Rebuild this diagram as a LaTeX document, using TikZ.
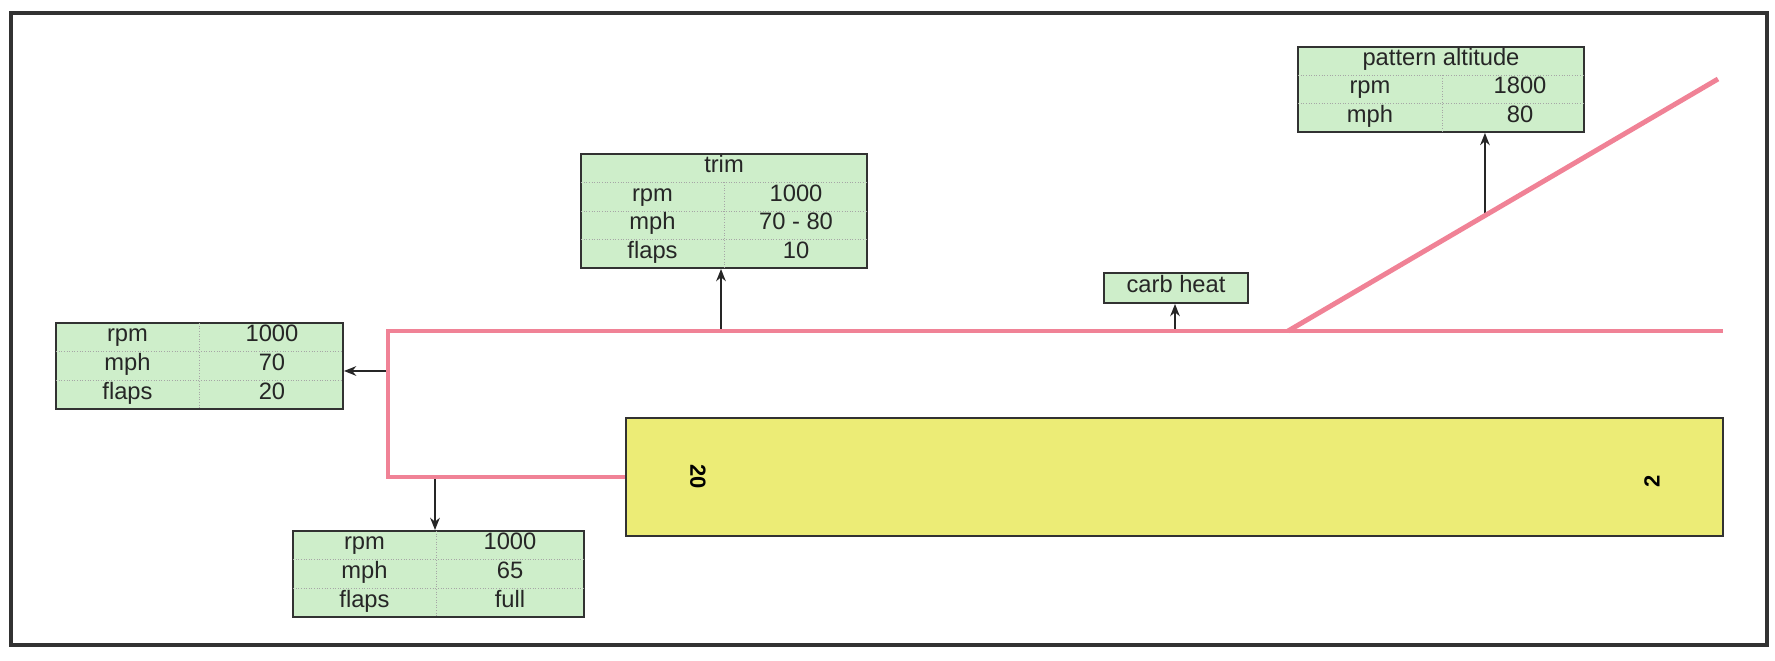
\documentclass[tikz,border=0pt]{standalone}
\usepackage{fontspec}
\setmainfont{Liberation Sans}
\usetikzlibrary{
  arrows.meta,
  fit,
  calc
}
\definecolor{cellgreen}{RGB}{206, 238, 202}
\definecolor{patternpink}{RGB}{240, 130, 150}
\definecolor{runwayyellow}{RGB}{236, 236, 118}
\definecolor{edgegray}{RGB}{50, 50, 50}
\tikzset{
  % Jadval qutilari
  tablebox/.style  = {draw=edgegray, line width=1.1pt, fill=cellgreen, inner sep=0pt},
  celldiv/.style   = {densely dotted, draw=black!35, line width=0.5pt},
  celltext/.style  = {font=\fontsize{13.5}{15}\selectfont, inner sep=0pt,
                      text height=0.72em, text depth=0.21em, text=black!85},
  % Uchish yo'li
  runwaybox/.style = {draw=edgegray, line width=1.1pt, fill=runwayyellow, inner sep=0pt},
  rwynum/.style    = {font=\fontsize{12.5}{14}\selectfont\bfseries, inner sep=0pt},
  % Aylanma yo'l va strelkalar
  patline/.style   = {draw=patternpink, line width=2.8pt},
  callout/.style   = {-{Stealth[length=7pt,width=5.5pt]}, line width=0.85pt, black!85},
}

\begin{document}
\begin{tikzpicture}[x=0.02cm, y=-0.02cm]
  \useasboundingbox (0,0) rectangle (1775,661);
  \draw[line width=1.8pt, edgegray] (11,13) rectangle (1767,645);

  % runway
  \node[runwaybox, fit={(626,418) (1723,536)}] (rwy) {};
  \node[rwynum, rotate=-90] (rwyA) at (698,477) {20};
  \node[rwynum, rotate=90] (rwyB) at (1652,481) {2};

  % tables
  \node[tablebox, fit={(581,154) (867,268)}] (trim) {};
  \foreach \y in {182.5,211,239.5}
    \draw[celldiv] (581,\y) -- (867,\y);
  \draw[celldiv] (724,182.5) -- (724,268);
  \node[celltext] (trimT) at (724,168) {trim};
  \foreach \a/\b [count=\i] in {rpm/1000, mph/70 - 80, flaps/10} {
    \node[celltext] (trimL\i) at (652.5,{182.5+(\i-0.5)*28.5}) {\a};
    \node[celltext] (trimR\i) at (796,{182.5+(\i-0.5)*28.5}) {\b};
  }

  \node[tablebox, fit={(1298,47) (1584,132)}] (pattern) {};
  \foreach \y in {75.3,103.7}
    \draw[celldiv] (1298,\y) -- (1584,\y);
  \draw[celldiv] (1442,75.3) -- (1442,132);
  \node[celltext] (patternT) at (1441,61) {pattern altitude};
  \foreach \a/\b [count=\i] in {rpm/1800, mph/80} {
    \node[celltext] (patternL\i) at (1370,{75.3+(\i-0.5)*28.3}) {\a};
    \node[celltext] (patternR\i) at (1520,{75.3+(\i-0.5)*28.3}) {\b};
  }

  \node[tablebox, fit={(56,323) (343,409)}] (base) {};
  \foreach \y in {351.7,380.3}
    \draw[celldiv] (56,\y) -- (343,\y);
  \draw[celldiv] (199,323) -- (199,409);
  \foreach \a/\b [count=\i] in {rpm/1000, mph/70, flaps/20} {
    \node[celltext] (baseL\i) at (127.5,{323+(\i-0.5)*28.7}) {\a};
    \node[celltext] (baseR\i) at (272,{323+(\i-0.5)*28.7}) {\b};
  }

  \node[tablebox, fit={(293,531) (584,617)}] (final) {};
  \foreach \y in {559.7,588.3}
    \draw[celldiv] (293,\y) -- (584,\y);
  \draw[celldiv] (436,531) -- (436,617);
  \foreach \a/\b [count=\i] in {rpm/1000, mph/65, flaps/full} {
    \node[celltext] (finalL\i) at (364.5,{531+(\i-0.5)*28.7}) {\a};
    \node[celltext] (finalR\i) at (510,{531+(\i-0.5)*28.7}) {\b};
  }

  \node[tablebox, fit={(1104,273) (1248,303)}] (carb) {};
  \node[celltext] (carbT) at (1176,288) {carb heat};

  % pattern path
  \coordinate (turnB) at (388,477);
  \coordinate (turnA) at (388,331);
  \coordinate (upwind) at (1723,331);
  \coordinate (join) at (1288,331);
  \coordinate (entry) at (1718,79);
  \coordinate (trimfoot) at (721,331);
  \coordinate (carbfoot) at (1175,331);
  \coordinate (patfoot) at ($(join)!0.458!(entry)$);
  \coordinate (basefoot) at (388,371);
  \coordinate (finalfoot) at (435,477);

  \draw[callout] (trimfoot) -- (trimfoot |- trim.south);
  \draw[callout] (carbfoot) -- (carbfoot |- carb.south);
  \draw[callout] (patfoot) -- (patfoot |- pattern.south);
  \draw[callout] (basefoot) -- (basefoot -| base.east);
  \draw[callout] (finalfoot) -- (finalfoot |- final.north);

  \draw[patline, line join=miter] (rwy.west) -- (turnB) -- (turnA) -- (upwind);
  \draw[patline] (join) -- (entry);
\end{tikzpicture}
\end{document}
